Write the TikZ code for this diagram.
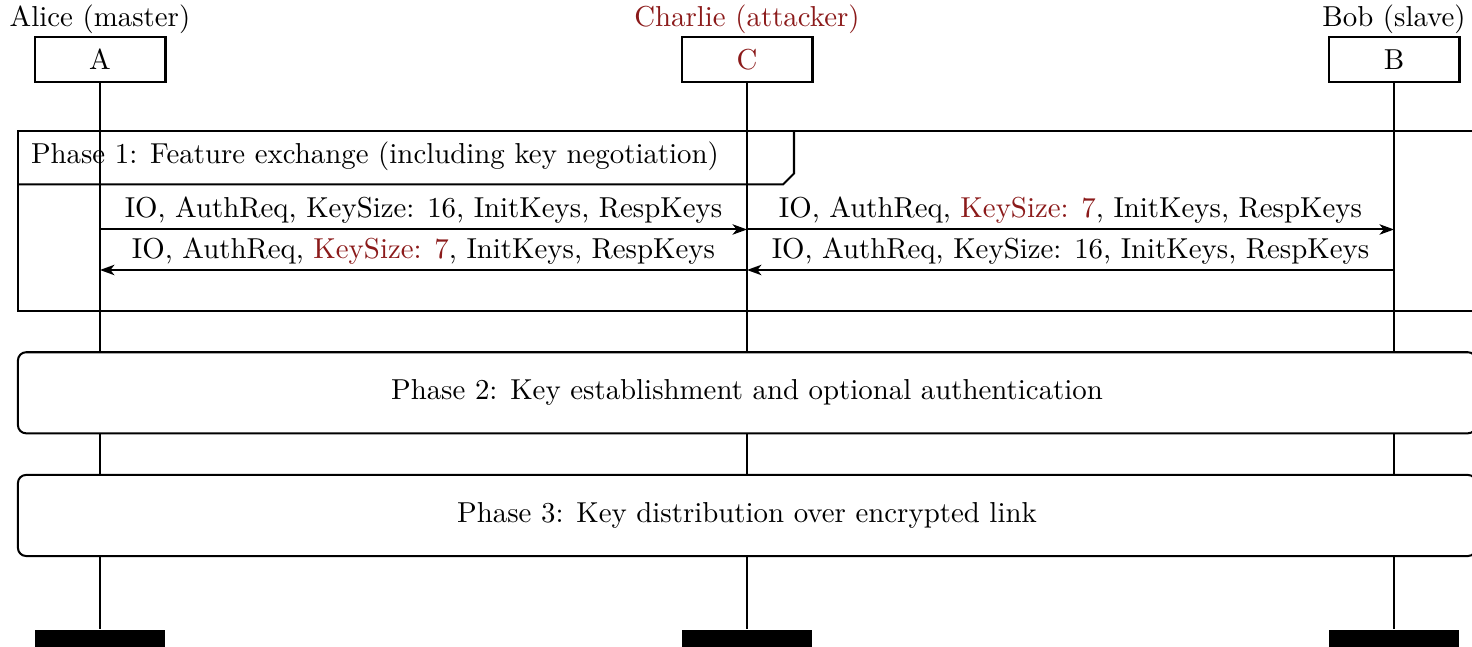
\documentclass[tikz,border=0pt]{standalone}
\usetikzlibrary{arrows.meta}
\definecolor{attacker}{RGB}{139,26,26}
\begin{document}
\begin{tikzpicture}[x=0.34662pt, y=-0.34662pt, line width=0.7pt,
  inst/.style={draw, fill=white, minimum width=45.4pt, minimum height=15.6pt, inner sep=0pt},
  endbar/.style={fill=black, minimum width=45.4pt, minimum height=12pt, inner sep=0pt, anchor=north},
  title/.style={anchor=base, inner sep=0pt},
  msg/.style={-{Stealth[length=5pt, width=3.6pt, inset=1.4pt]}},
  msglabel/.style={midway, anchor=base, inner sep=0pt, yshift=4pt},
  phasebox/.style={draw, fill=white, rounded corners=2.8pt, minimum width=505.4pt,
    minimum height=28.1pt, inner sep=0pt}]
\clip (0,0) rectangle (1472,647);

% participants
\node[title] (tA) at (100,27) {Alice (master)};
\node[title, text=attacker] (tC) at (747,27) {Charlie (attacker)};
\node[title] (tB) at (1394,27) {Bob (slave)};
\node[inst] (A) at (100,59.5) {A};
\node[inst, text=attacker] (C) at (747,59.5) {C};
\node[inst] (B) at (1394,59.5) {B};

% end-of-life bars
\node[endbar] (Aend) at (100,629) {};
\node[endbar] (Cend) at (747,629) {};
\node[endbar] (Bend) at (1394,629) {};

% phase 1 frame with its label tab
\draw (18,131.5) rectangle (1476,310.7);
\draw (18,184.5) -- (783,184.5) -- (794,173.5) -- (794,131.5);
\node[anchor=base west, inner sep=0pt] (p1) at (30,164)
  {Phase 1: Feature exchange (including key negotiation)};

% lifelines
\draw (A.south) -- (Aend.north);
\draw (C.south) -- (Cend.north);
\draw (B.south) -- (Bend.north);

% messages
\coordinate (m1) at (0,229.5);
\coordinate (m2) at (0,270);
\draw[msg] (A |- m1) -- node[msglabel]
  {IO, AuthReq, KeySize: 16, InitKeys, RespKeys} (C |- m1);
\draw[msg] (C |- m1) -- node[msglabel]
  {IO, AuthReq, \textcolor{attacker}{KeySize: 7}, InitKeys, RespKeys} (B |- m1);
\draw[msg] (C |- m2) -- node[msglabel]
  {IO, AuthReq, \textcolor{attacker}{KeySize: 7}, InitKeys, RespKeys} (A |- m2);
\draw[msg] (B |- m2) -- node[msglabel]
  {IO, AuthReq, KeySize: 16, InitKeys, RespKeys} (C |- m2);

% phases 2 and 3
\node[phasebox] (p2) at (747,392.8) {Phase 2: Key establishment and optional authentication};
\node[phasebox] (p3) at (747,515.5) {Phase 3: Key distribution over encrypted link};
\end{tikzpicture}
\end{document}
